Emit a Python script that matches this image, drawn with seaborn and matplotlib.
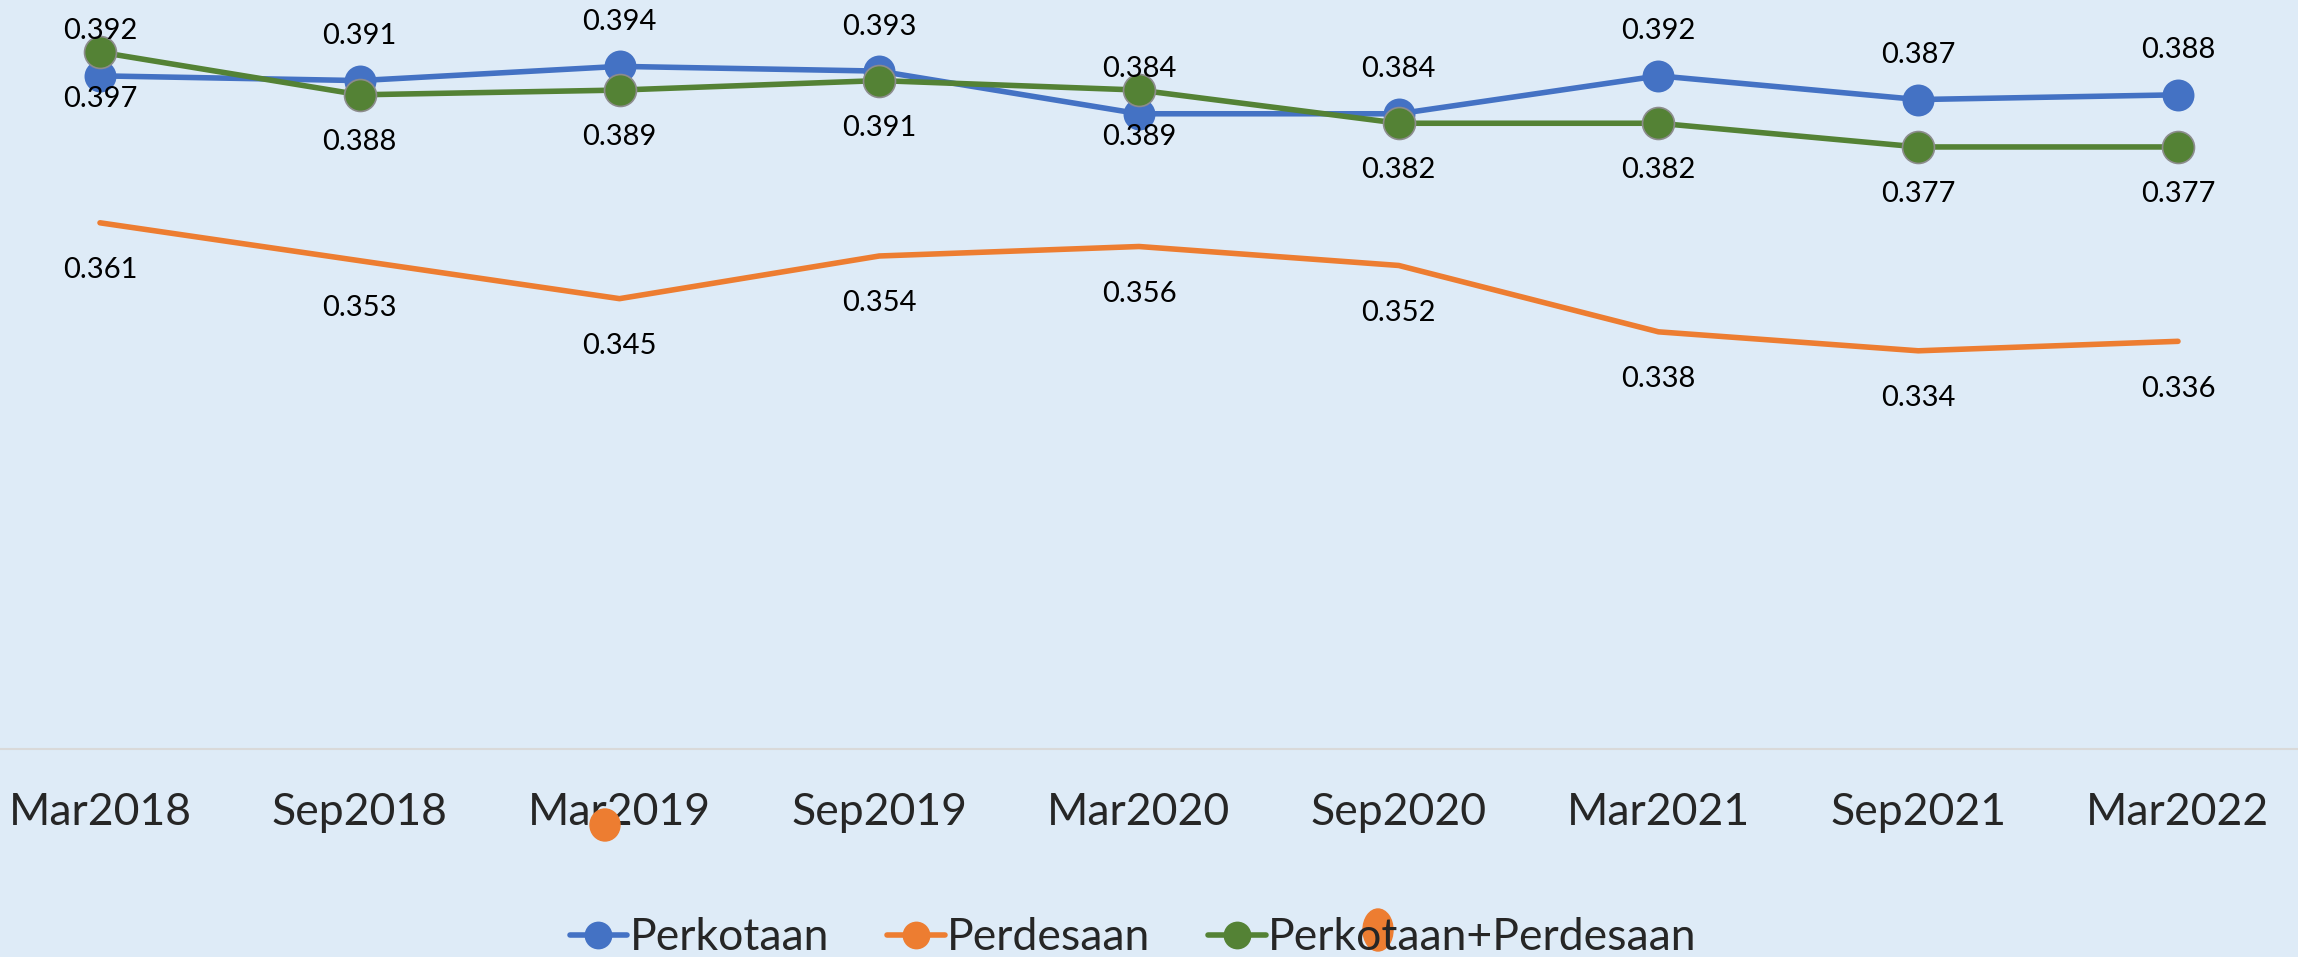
"""Gini ratio Perkotaan / Perdesaan, Mar2018 - Mar2022"""
import matplotlib

matplotlib.use("Agg")
from matplotlib import pyplot as plt
from matplotlib.lines import Line2D
from matplotlib.patches import Ellipse
import pandas as pd
import seaborn as sns

periods = ["Mar2018", "Sep2018", "Mar2019", "Sep2019", "Mar2020",
           "Sep2020", "Mar2021", "Sep2021", "Mar2022"]
perkotaan = [0.392, 0.391, 0.394, 0.393, 0.384, 0.384, 0.392, 0.387, 0.388]
perdesaan = [0.361, 0.353, 0.345, 0.354, 0.356, 0.352, 0.338, 0.334, 0.336]
gabungan = [0.397, 0.388, 0.389, 0.391, 0.389, 0.382, 0.382, 0.377, 0.377]
series_names = ["Perkotaan", "Perdesaan", "Perkotaan+Perdesaan"]

BG = "#DEEBF7"
COLORS = {"Perkotaan": "#4472C4", "Perdesaan": "#ED7D31", "Perkotaan+Perdesaan": "#548235"}

sns.set_style("white")
plt.rcParams["font.family"] = ["Lato", "DejaVu Sans"]

df = pd.DataFrame({
    "Periode": periods * 3,
    "x": list(range(len(periods))) * 3,
    "Gini": perkotaan + perdesaan + gabungan,
    "Seri": sum([[s] * len(periods) for s in series_names], []),
})

fig = plt.figure(figsize=(22.98, 9.57), dpi=100, facecolor=BG)
ax = fig.add_axes([0, 1 - 749 / 957, 1, 749 / 957])
ax.set_facecolor(BG)

# draw order: orange under, then blue, green on top
for name, marker in (("Perdesaan", None), ("Perkotaan", "o"), ("Perkotaan+Perdesaan", "o")):
    sub = df[df["Seri"] == name]
    sns.lineplot(
        data=sub, x="x", y="Gini", ax=ax, color=COLORS[name], linewidth=4,
        marker=marker, markersize=23,
        markeredgecolor="#8C8C8C" if name == "Perkotaan+Perdesaan" else COLORS[name],
        markeredgewidth=1.2 if name == "Perkotaan+Perdesaan" else 0,
        legend=False,
    )

# data labels: blue above, green and orange below
offsets = {"Perkotaan": 32, "Perdesaan": -34, "Perkotaan+Perdesaan": -34}
for name, vals in zip(series_names, (perkotaan, perdesaan, gabungan)):
    for i, v in enumerate(vals):
        ax.annotate(f"{v:.3f}", (i, v), xytext=(0, offsets[name]),
                    textcoords="offset points", ha="center", va="center",
                    fontsize=21, color="black")

ax.set_xlim(-0.385, 8.462)
ax.set_ylim(0.25, 0.408)
ax.set_xticks(range(len(periods)))
ax.set_xticklabels(periods, fontsize=32)
ax.tick_params(axis="x", length=0, pad=31)
ax.set_yticks([])
ax.set_xlabel("")
ax.set_ylabel("")
for side in ("top", "left", "right"):
    ax.spines[side].set_visible(False)
ax.spines["bottom"].set_color("#D9D9D9")
ax.spines["bottom"].set_linewidth(1.5)

handles = [
    Line2D([], [], color=COLORS[n], linewidth=4, marker="o", markersize=20,
           markeredgewidth=0)
    for n in series_names
]
fig.legend(handles, series_names, loc="center", bbox_to_anchor=(0.493, 0.02),
           ncol=3, frameon=False, fontsize=32, handlelength=1.3,
           handletextpad=0.05, columnspacing=1.3)

# stray orange marker blobs visible in the original rendering
for cx, cy, w, h in ((605, 825, 30, 32), (1378, 930, 30, 42)):
    fig.patches.append(Ellipse((cx / 2298, 1 - cy / 957), w / 2298, h / 957,
                               transform=fig.transFigure, color=COLORS["Perdesaan"],
                               zorder=5))

fig.savefig("out.png", dpi=100, facecolor=BG)
